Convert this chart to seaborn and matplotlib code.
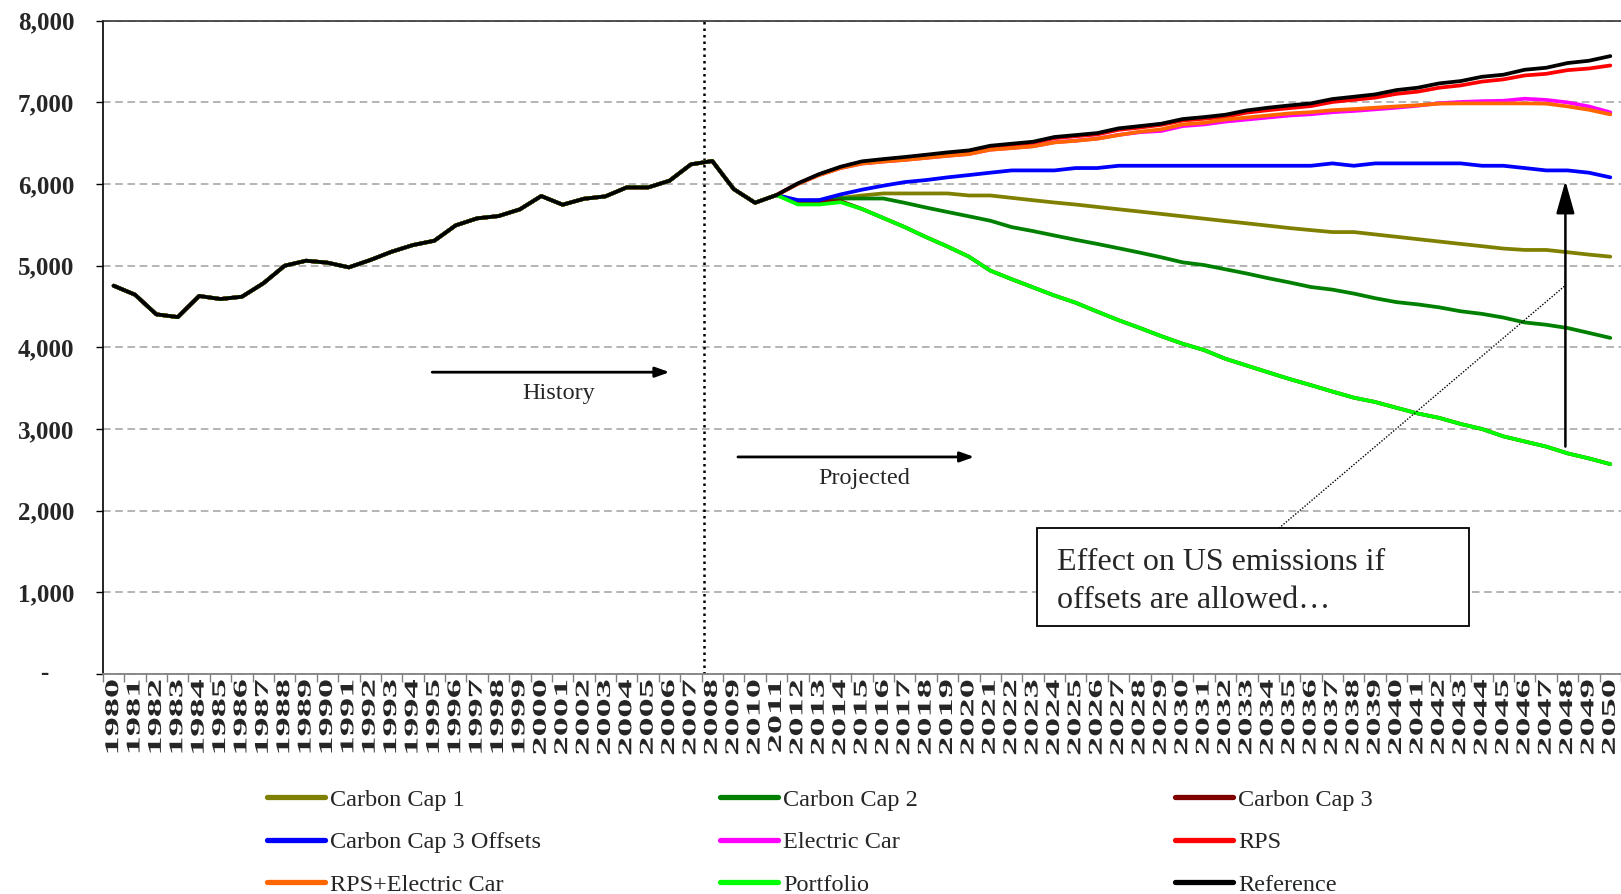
import numpy as np
import pandas as pd
import matplotlib
matplotlib.use("Agg")
import matplotlib.pyplot as plt
import seaborn as sns
from matplotlib.patheffects import AbstractPathEffect
from matplotlib.transforms import Affine2D, blended_transform_factory
from matplotlib.lines import Line2D
from matplotlib.patches import Rectangle

# ---------------- data ----------------
years = list(range(1980, 2051))
year_labels = [str(y) for y in years]

history = [4755, 4645, 4404, 4371, 4629, 4592, 4620, 4784, 5000, 5061,
           5037, 4980, 5069, 5171, 5253, 5306, 5494, 5580, 5608, 5690,
           5853, 5747, 5820, 5849, 5959, 5959, 6041, 6241, 6282, 5939,
           5771, 5865]

carbon_cap_1 = [5790, 5800, 5830, 5860, 5885, 5885, 5885, 5885, 5860, 5860,
                5831, 5802, 5774, 5749, 5720, 5691, 5663, 5634, 5605, 5576,
                5547, 5519, 5490, 5461, 5436, 5412, 5412, 5383, 5354, 5325,
                5296, 5267, 5239, 5210, 5193, 5193, 5165, 5136, 5111]
carbon_cap_2 = [5790, 5790, 5823, 5823, 5823, 5770, 5712, 5658, 5605, 5551,
                5473, 5424, 5370, 5317, 5267, 5214, 5160, 5103, 5041, 5008,
                4956, 4904, 4847, 4795, 4739, 4707, 4659, 4602, 4554, 4526,
                4490, 4442, 4410, 4365, 4305, 4277, 4237, 4177, 4116]
carbon_cap_3 = [5770, 5790, 5790, 5695, 5584, 5473, 5350, 5235, 5111, 4940,
                4835, 4735, 4635, 4546, 4438, 4333, 4237, 4137, 4044, 3967,
                3860, 3777, 3694, 3612, 3537, 3459, 3384, 3331, 3260, 3190,
                3136, 3062, 3000, 2910, 2847, 2785, 2702, 2640, 2570]
carbon_cap_3_offsets = [5804, 5804, 5873, 5931, 5980, 6024, 6049, 6082, 6110, 6139,
                        6167, 6167, 6167, 6196, 6196, 6224, 6224, 6224, 6224, 6224,
                        6224, 6224, 6224, 6224, 6224, 6253, 6224, 6253, 6253, 6253,
                        6253, 6253, 6224, 6224, 6196, 6167, 6167, 6139, 6082]
electric_car = [6002, 6112, 6197, 6252, 6277, 6297, 6322, 6347, 6369, 6422,
                6442, 6464, 6512, 6532, 6557, 6602, 6635, 6650, 6710, 6730,
                6765, 6790, 6815, 6840, 6855, 6880, 6895, 6915, 6935, 6960,
                6990, 7005, 7015, 7020, 7045, 7030, 7000, 6950, 6878]
rps = [6005, 6118, 6205, 6270, 6298, 6322, 6350, 6378, 6402, 6458,
       6482, 6506, 6562, 6586, 6608, 6664, 6692, 6725, 6778, 6800,
       6825, 6875, 6905, 6930, 6955, 7005, 7032, 7058, 7105, 7132,
       7180, 7208, 7255, 7282, 7330, 7350, 7395, 7415, 7452]
rps_electric_car = [6000, 6110, 6195, 6250, 6275, 6295, 6320, 6345, 6367, 6420,
                    6440, 6462, 6510, 6530, 6555, 6600, 6641, 6670, 6730, 6750,
                    6790, 6815, 6840, 6865, 6880, 6905, 6918, 6935, 6951, 6965,
                    6985, 6988, 6988, 6988, 6988, 6985, 6951, 6910, 6853]
portfolio = [5750, 5750, 5778, 5695, 5584, 5473, 5350, 5235, 5111, 4940,
             4835, 4735, 4635, 4546, 4438, 4333, 4237, 4137, 4044, 3967,
             3860, 3777, 3694, 3612, 3537, 3459, 3384, 3331, 3260, 3190,
             3136, 3062, 3000, 2910, 2847, 2785, 2702, 2640, 2570]
reference = [6008, 6122, 6212, 6278, 6306, 6331, 6359, 6388, 6412, 6469,
             6494, 6518, 6576, 6600, 6624, 6682, 6710, 6739, 6796, 6820,
             6849, 6902, 6935, 6963, 6988, 7041, 7069, 7098, 7151, 7180,
             7233, 7261, 7314, 7339, 7400, 7424, 7482, 7510, 7567]

scenario_names = ["Carbon Cap 1", "Carbon Cap 2", "Carbon Cap 3",
                  "Carbon Cap 3 Offsets", "Electric Car", "RPS",
                  "RPS+Electric Car", "Portfolio", "Reference"]
scenario_projections = [carbon_cap_1, carbon_cap_2, carbon_cap_3,
                        carbon_cap_3_offsets, electric_car, rps,
                        rps_electric_car, portfolio, reference]
scenario_colors = ["#808000", "#008000", "#800000", "#0000FF", "#FF00FF",
                   "#FF0000", "#FF6600", "#00FF00", "#000000"]

y_ticks = [0, 1000, 2000, 3000, 4000, 5000, 6000, 7000, 8000]

# ---------------- long-form table ----------------
rows = []
for name, proj in zip(scenario_names, scenario_projections):
    vals = history + proj
    for i, (yr, v) in enumerate(zip(years, vals)):
        rows.append({"idx": i, "year": yr, "value": v, "scenario": name})
df = pd.DataFrame(rows)


class Stretch(AbstractPathEffect):
    """Stretch text along its own direction, keeping the end of the string fixed."""
    def __init__(self, sx):
        super().__init__()
        self.sx = sx

    def draw_path(self, renderer, gc, tpath, affine, rgbFace=None):
        w = tpath.get_extents().x1
        pre = Affine2D().translate(-w, 0).scale(self.sx, 1).translate(w, 0)
        renderer.draw_path(gc, tpath, pre + affine, rgbFace)


sns.set_style("white")
plt.rcParams["font.family"] = ["Liberation Serif", "DejaVu Serif"]

fig = plt.figure(figsize=(16.21, 8.94), dpi=100)
ax = fig.add_axes([0.0635, 0.2461, 0.9365, 0.7307])

sns.lineplot(data=df, x="idx", y="value", hue="scenario", hue_order=scenario_names,
             palette=dict(zip(scenario_names, scenario_colors)), linewidth=2.7,
             sort=False, estimator=None, errorbar=None, legend=False, ax=ax)

ax.set_xlim(-0.5, len(years) - 0.5)
ax.set_ylim(0, 8000)
ax.set_xlabel("")
ax.set_ylabel("")

# y axis
ax.set_yticks(y_ticks)
ax.set_yticklabels([""] + [f"{v:,}" for v in y_ticks[1:]], fontsize=18, fontweight="bold")
ax.tick_params(axis="y", direction="out", length=5, width=1, color="black", pad=15.5, left=True)
ax.text(-0.0386, 0, "-", transform=blended_transform_factory(ax.transAxes, ax.transData),
        ha="center", va="center", fontsize=18, fontweight="bold")
ax.grid(axis="y", linestyle=(0, (5, 3)), color="#a0a0a0", linewidth=1.1)
ax.grid(axis="x", visible=False)

# x axis
ax.set_xticks(range(len(years)))
ax.set_xticklabels(year_labels, rotation=90, fontsize=14, fontweight="bold",
                   ha="center", va="top")
ax.set_xticks(np.arange(-0.5, len(years), 1.0), minor=True)
ax.tick_params(axis="x", which="major", length=0, pad=4, bottom=True)
ax.tick_params(axis="x", which="minor", direction="out", length=6, width=1,
               color="#808080", bottom=True)
for lbl in ax.get_xticklabels():
    lbl.set_path_effects([Stretch(1.97)])

ax.spines["right"].set_visible(False)
ax.spines["left"].set_color("black")
ax.spines["left"].set_linewidth(1.2)
ax.spines["bottom"].set_color("#808080")
ax.spines["bottom"].set_linewidth(1.3)
ax.spines["top"].set_color("#333333")
ax.spines["top"].set_linewidth(1.2)

# history / projection divider
ax.axvline(27.6, color="black", linestyle=(0, (1, 1.6)), linewidth=1.8, zorder=1)

# annotations
arrow_small = dict(arrowstyle="-|>,head_length=0.7,head_width=0.25", color="black",
                   lw=2, mutation_scale=12, shrinkA=0, shrinkB=0)
ax.annotate("", xy=(26.0, 3696), xytext=(14.9, 3696), arrowprops=arrow_small)
ax.text(20.8, 3440, "History", ha="center", va="center", fontsize=17.5)
ax.annotate("", xy=(40.25, 2658), xytext=(29.2, 2658), arrowprops=arrow_small)
ax.text(35.1, 2400, "Projected", ha="center", va="center", fontsize=17.5)

ax.annotate("", xy=(67.9, 6040), xytext=(67.9, 2785),
            arrowprops=dict(arrowstyle="-|>,head_length=1.0,head_width=0.28",
                            color="black", lw=1.8, mutation_scale=20,
                            shrinkA=0, shrinkB=0))
ax.plot([54.5, 67.9], [1785, 4759], color="black", linewidth=1.0,
        linestyle=(0, (1, 1.2)), zorder=4)
ax.add_patch(Rectangle((43.2, 582), 20.2, 1203, facecolor="white",
                       edgecolor="black", linewidth=1.3, zorder=5))
ax.text(44.1, 1370, "Effect on US emissions if", ha="left", va="center",
        fontsize=23, zorder=6)
ax.text(44.1, 900, "offsets are allowed\u2026", ha="left", va="center",
        fontsize=23, zorder=6)

# legend: 3 columns, row-wise order
col_x = [0.1647, 0.4442, 0.7249]
for c in range(3):
    idxs = [c, c + 3, c + 6]
    handles = [Line2D([], [], color=scenario_colors[i], linewidth=3.8) for i in idxs]
    labels = [scenario_names[i] for i in idxs]
    fig.legend(handles=handles, labels=labels, loc="upper left",
               bbox_to_anchor=(col_x[c], 0.118), frameon=False, borderpad=0,
               borderaxespad=0, handlelength=2.4, handletextpad=0.2,
               labelspacing=0.85, fontsize=17.5)

fig.savefig("out.png", dpi=100)
